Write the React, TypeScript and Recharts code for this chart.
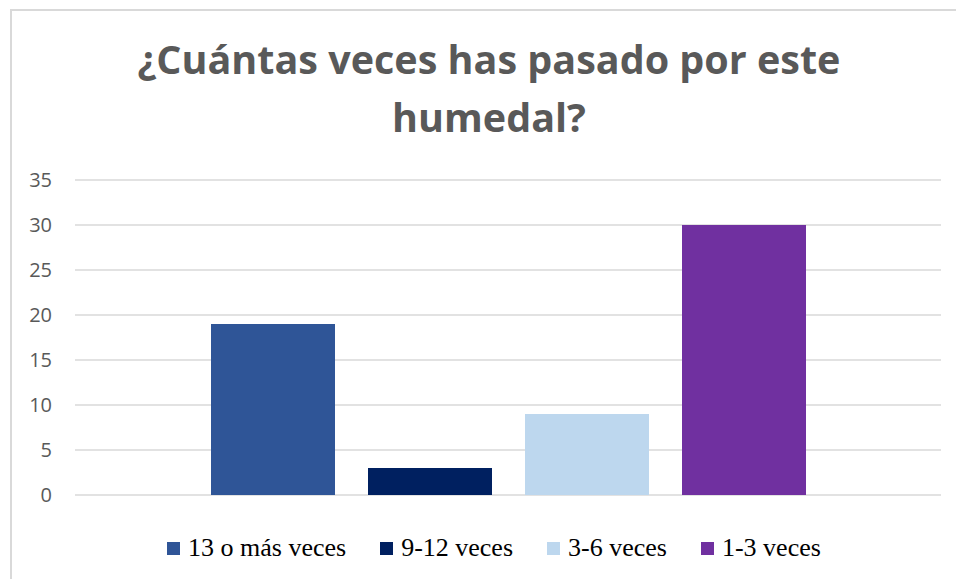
import React from "react";
import { BarChart, Bar, XAxis, YAxis, CartesianGrid, Legend } from "recharts";

const title = ["¿Cuántas veces has pasado por este", "humedal?"];
const category = ["Respuestas"];
const seriesNames = ["13 o más veces", "9-12 veces", "3-6 veces", "1-3 veces"];
const seriesValues = [19, 3, 9, 30];
const seriesColors = ["#2F5597", "#002060", "#BDD7EE", "#7030A0"];
const yTicks = [0, 5, 10, 15, 20, 25, 30, 35];

const data = category.map((c) => {
  const row: Record<string, string | number> = { category: c };
  seriesNames.forEach((name, i) => {
    row[name] = seriesValues[i];
  });
  return row;
});

function LegendContent({ payload }: any) {
  const items = [...(payload || [])].sort(
    (a: any, b: any) => seriesNames.indexOf(a.value) - seriesNames.indexOf(b.value)
  );
  return (
    <div
      style={{
        display: "flex",
        alignItems: "center",
        height: 30,
        paddingLeft: 167,
        fontFamily: "'Liberation Serif', 'Times New Roman', serif",
        fontSize: 26,
        color: "#000",
        whiteSpace: "nowrap",
      }}
    >
      {items.map((p: any, i: number) => (
        <div
          key={p.value}
          style={{
            display: "flex",
            alignItems: "center",
            marginRight: i < items.length - 1 ? 34 : 0,
          }}
        >
          <span
            style={{
              display: "inline-block",
              width: 13,
              height: 13,
              background: p.color,
              marginRight: 8,
            }}
          />
          <span style={{ lineHeight: "30px" }}>{p.value}</span>
        </div>
      ))}
    </div>
  );
}

export default function App() {
  return (
    <div
      style={{
        position: "absolute",
        left: 0,
        top: 0,
        width: 956,
        height: 579,
        background: "#fff",
        overflow: "hidden",
      }}
    >
      <div
        style={{
          position: "absolute",
          left: 10,
          top: 9,
          width: 946,
          height: 570,
          borderTop: "2px solid #d9d9d9",
          borderLeft: "2px solid #d9d9d9",
        }}
      />
      <div
        style={{
          position: "absolute",
          left: 0,
          top: 30,
          width: 978,
          textAlign: "center",
          fontFamily: "'Open Sans', sans-serif",
          fontWeight: 700,
          fontSize: 39.5,
          lineHeight: "58px",
          color: "#595959",
        }}
      >
        {title.map((t) => (
          <div key={t}>{t}</div>
        ))}
      </div>
      <div style={{ position: "absolute", left: 0, top: 0 }}>
        <BarChart
          width={956}
          height={579}
          data={data}
          margin={{ top: 180, right: 15, bottom: 54, left: 0 }}
          barSize={124}
          barGap={33}
        >
          <CartesianGrid
            vertical={false}
            stroke="#d9d9d9"
            strokeWidth={1.5}
          />
          <XAxis dataKey="category" hide />
          <YAxis
            domain={[0, 35]}
            ticks={yTicks}
            width={75}
            axisLine={false}
            tickLine={false}
            tickSize={0}
            tickMargin={23}
            tick={{
              fill: "#595959",
              fontSize: 20,
              fontFamily: "'Open Sans', sans-serif",
            }}
          />
          <Legend
            verticalAlign="bottom"
            content={<LegendContent />}
            wrapperStyle={{ left: 0, width: 956, bottom: 16 }}
          />
          {seriesNames.map((name, i) => (
            <Bar
              key={name}
              dataKey={name}
              name={name}
              fill={seriesColors[i]}
              isAnimationActive={false}
            />
          ))}
        </BarChart>
      </div>
    </div>
  );
}
